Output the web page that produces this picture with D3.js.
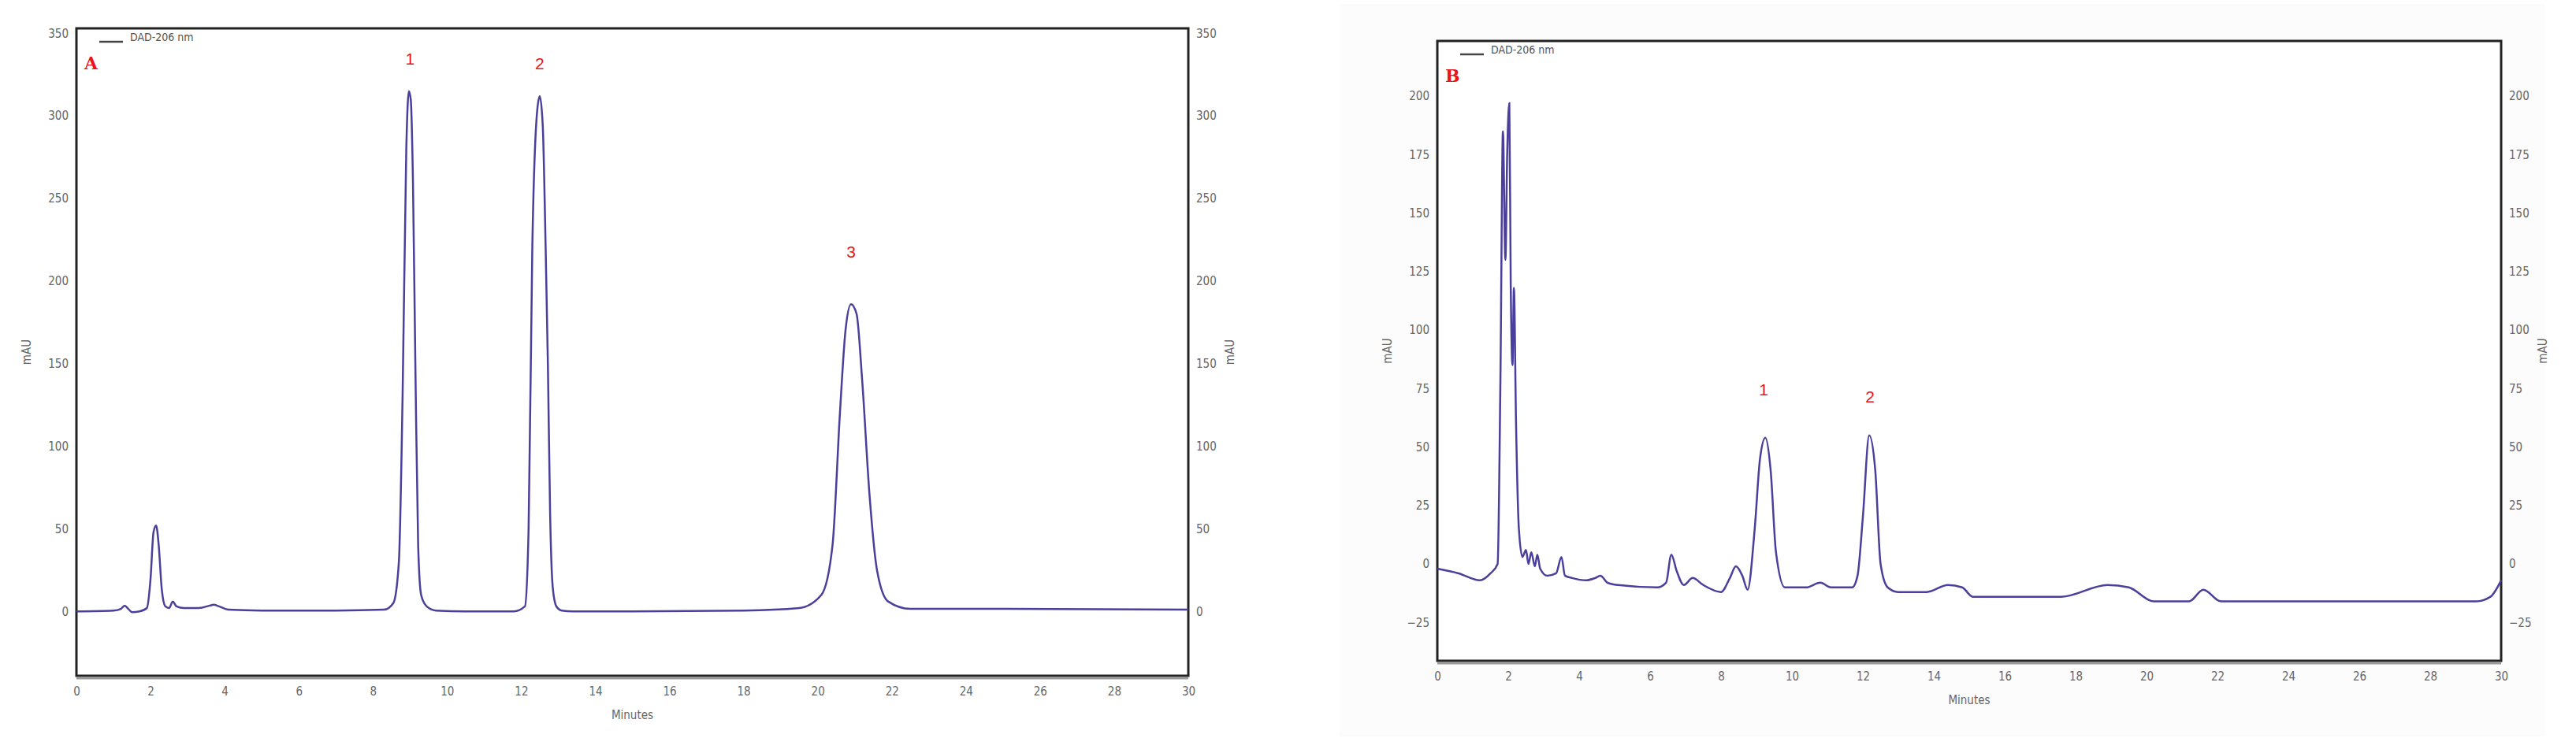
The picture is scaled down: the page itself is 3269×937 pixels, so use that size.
<!DOCTYPE html>
<html><head><meta charset="utf-8">
<script src="https://cdn.jsdelivr.net/npm/d3@7"></script>
<style>body{margin:0;background:#fff}</style>
</head><body><div id="chart"></div>
<script>
// chromatogram A (time in minutes, mAU)
var timesA = [0,1.0,1.2,1.3,1.4,1.5,1.7,1.9,2.0,2.08,2.15,2.22,2.3,2.4,2.5,2.6,2.7,2.9,3.3,3.6,3.7,3.85,4.1,5,7,8.3,8.55,8.7,8.8,8.9,8.97,9.02,9.08,9.15,9.22,9.3,9.45,9.7,10.5,11.8,12.1,12.2,12.3,12.42,12.5,12.58,12.66,12.72,12.78,12.85,12.95,13.1,13.4,15,18,19.5,20.1,20.4,20.6,20.75,20.9,21.05,21.2,21.4,21.6,21.9,22.5,25,30];
var valuesA = [0,0.5,1.5,3.5,1.5,-0.5,0,2,20,48,52,40,14,3,2,6,3,2,2,3.5,4,3,1,0.5,0.5,1,5,30,130,280,315,310,260,140,40,10,3,0.5,0,0,3,50,220,300,312,295,220,150,60,15,3,0.5,0,0,0.5,2,10,40,120,170,186,180,140,70,25,6,1.5,1.5,1];
// chromatogram B
var timesB = [0,0.6,1.2,1.5,1.7,1.78,1.85,1.92,1.97,2.03,2.07,2.12,2.16,2.22,2.3,2.4,2.5,2.57,2.65,2.75,2.82,2.9,3.1,3.35,3.5,3.6,3.8,4.2,4.45,4.6,4.8,5.1,6.2,6.45,6.6,6.75,6.95,7.2,7.5,8.0,8.25,8.42,8.6,8.75,8.95,9.1,9.25,9.4,9.55,9.8,10.4,10.8,11.1,11.7,11.85,12.0,12.18,12.35,12.5,12.7,13.0,13.8,14.4,14.8,15.1,17.6,18.9,19.5,20.2,21.2,21.6,22.1,29.3,29.7,30];
var valuesB = [-2,-4,-7,-4,0,80,185,130,175,197,120,85,118,60,15,3,6,0,5,-1,4,-2,-5,-4,3,-5,-6,-7,-6,-5,-8,-9,-10,-8,4,-3,-9,-6,-9,-12,-6,-1,-5,-11,15,45,54,40,5,-10,-10,-8,-10,-10,-5,20,55,40,0,-10,-12,-12,-9,-10,-14,-14,-9,-10,-16,-16,-11,-16,-16,-14,-7];
var xTicks = d3.range(0, 31, 2);
var yTicksA = [0,50,100,150,200,250,300,350];
var yTicksB = [-25,0,25,50,75,100,125,150,175,200];
var peakLabelsA = [{t:9.0,v:331,s:"1"},{t:12.5,v:328,s:"2"},{t:20.9,v:214,s:"3"}];
var peakLabelsB = [{t:9.2,v:72,s:"1"},{t:12.2,v:69,s:"2"}];

var svg = d3.select("#chart").append("svg").attr("width", 3269).attr("height", 937);
svg.append("rect").attr("x",1700).attr("y",5).attr("width",1530).attr("height",930).attr("fill","#fcfcfc");

function panel(o) {
    var x = d3.scaleLinear().domain([0, 30]).range([o.left, o.right]);
    var y = d3.scaleLinear().domain(o.ydom).range([o.bottom, o.top]);
    var g = svg.append("g");
    var tf = "'Liberation Sans Narrow', 'DejaVu Sans Condensed', sans-serif";

    // frame
    g.append("rect").attr("x", o.left).attr("y", o.top).attr("width", o.right - o.left).attr("height", o.bottom - o.top)
        .attr("fill", "#fff").attr("stroke", "#222").attr("stroke-width", 3);
    g.append("line").attr("x1", o.left).attr("x2", o.right).attr("y1", o.bottom + 3).attr("y2", o.bottom + 3)
        .attr("stroke", "#999").attr("stroke-width", 3);

    // axes (labels only, no tick marks)
    var ax = [d3.axisBottom(x).tickValues(xTicks).tickSize(0).tickPadding(14), "translate(0," + o.bottom + ")",
              d3.axisLeft(y).tickValues(o.yticks).tickSize(0).tickPadding(10), "translate(" + o.left + ",0)",
              d3.axisRight(y).tickValues(o.yticks).tickSize(0).tickPadding(10), "translate(" + o.right + ",0)"];
    for (var i = 0; i < ax.length; i += 2) {
        var a = g.append("g").attr("transform", ax[i + 1]).call(ax[i]);
        a.select(".domain").remove();
        a.selectAll("text").style("font-family", tf).style("font-size", "15px").attr("fill", "#666");
    }

    g.append("text").attr("x", (o.left + o.right) / 2).attr("y", o.bottom + 55).attr("text-anchor", "middle")
        .style("font-family", tf).style("font-size", "15px").attr("fill", "#666").text("Minutes");
    [o.left - 58, o.right + 58].forEach(function (px) {
        g.append("text").attr("transform", "translate(" + px + "," + (o.top + o.bottom) / 2 + ")rotate(-90)")
            .attr("text-anchor", "middle").style("font-family", tf).style("font-size", "15px").attr("fill", "#666").text("mAU");
    });

    // legend
    g.append("line").attr("x1", o.left + 29).attr("x2", o.left + 59).attr("y1", o.top + 17).attr("y2", o.top + 17)
        .attr("stroke", "#444").attr("stroke-width", 2.5);
    g.append("text").attr("x", o.left + 68).attr("y", o.top + 16).style("font-family", tf).style("font-size", "14px")
        .attr("fill", "#555").text("DAD-206 nm");

    // trace
    var data = o.times.map(function (t, i) { return [t, o.values[i]]; });
    g.append("path").datum(data).attr("fill", "none").attr("stroke", "#4a3f9a").attr("stroke-width", 2.5)
        .attr("d", d3.line().x(function (d) { return x(d[0]); }).y(function (d) { return y(d[1]); }).curve(d3.curveMonotoneX));

    g.append("text").attr("x", o.left + 10).attr("y", o.letterY).style("font-family", "'DejaVu Serif', serif")
        .style("font-weight", "bold").style("font-size", "22px").attr("fill", "#e8151b").text(o.letter);
    g.selectAll(".pk").data(o.peaks).enter().append("text")
        .attr("x", function (d) { return x(d.t); }).attr("y", function (d) { return y(d.v); })
        .attr("text-anchor", "middle").style("font-family", "'Liberation Sans', sans-serif")
        .style("font-size", "21px").attr("fill", "#e8151b").text(function (d) { return d.s; });
}

panel({left: 97, right: 1508, top: 36, bottom: 858, ydom: [-39, 353], yticks: yTicksA,
       times: timesA, values: valuesA, letter: "A", letterY: 88, peaks: peakLabelsA});
panel({left: 1824, right: 3174, top: 52, bottom: 839, ydom: [-41.4, 223.6], yticks: yTicksB,
       times: timesB, values: valuesB, letter: "B", letterY: 104, peaks: peakLabelsB});
</script></body></html>
